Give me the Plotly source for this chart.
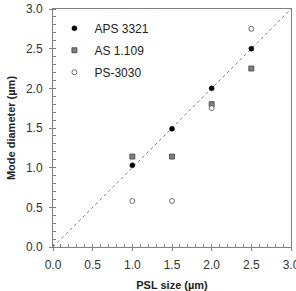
import plotly.graph_objects as go

psl = [1.0, 1.5, 2.0, 2.5]
aps_3321 = [1.03, 1.49, 2.0, 2.5]
as_1109 = [1.14, 1.14, 1.80, 2.25]
ps_3030 = [0.58, 0.58, 1.75, 2.75]
ref_line = [0.0, 3.0]
tick_vals = [0.0, 0.5, 1.0, 1.5, 2.0, 2.5, 3.0]
tick_text = ["0.0", "0.5", "1.0", "1.5", "2.0", "2.5", "3.0"]

fig = go.Figure()
fig.add_trace(go.Scatter(x=ref_line, y=ref_line, mode="lines",
                         line=dict(color="#666666", width=0.8, dash="dot"),
                         showlegend=False, hoverinfo="skip"))
fig.add_trace(go.Scatter(x=psl, y=aps_3321, mode="markers", name="APS 3321",
                         legendgroup="a",
                         marker=dict(symbol="circle", size=5, color="black",
                                     line=dict(color="black", width=0.5))))
fig.add_trace(go.Scatter(x=psl, y=as_1109, mode="markers", name="AS 1.109",
                         legendgroup="b",
                         marker=dict(symbol="square", size=5, color="#808080",
                                     line=dict(color="#404040", width=0.8))))
fig.add_trace(go.Scatter(x=psl, y=ps_3030, mode="markers", name="PS-3030",
                         legendgroup="c",
                         marker=dict(symbol="circle", size=5, color="white",
                                     line=dict(color="#606060", width=0.9))))

axis_common = dict(
    range=[0, 3], tickvals=tick_vals, ticktext=tick_text, automargin=False,
    showgrid=False, zeroline=False, showline=True, linecolor="#808080",
    linewidth=1, mirror=True, ticks="outside", ticklen=3, tickcolor="#808080",
    ticklabelstandoff=4, ticklabeloverflow="allow",
    tickfont=dict(family="Liberation Sans, Arial", size=12, color="#333333"),
    minor=dict(dtick=0.1, ticks="inside", ticklen=3, tickcolor="#808080"),
)

fig.update_layout(
    width=296, height=291,
    margin=dict(l=53, r=5, t=9, b=44),
    plot_bgcolor="white", paper_bgcolor="white",
    font=dict(family="Liberation Sans, Arial", size=11, color="#222222"),
    xaxis=dict(**axis_common,
               title=dict(text="<b>PSL size (µm)</b>", standoff=10,
                          font=dict(size=11, color="#222222"))),
    yaxis=dict(**axis_common,
               title=dict(text="<b>Mode diameter (µm)</b>", standoff=8,
                          font=dict(size=11, color="#222222"))),
    legend=dict(x=0.006, y=0.98, xanchor="left", yanchor="top",
                bgcolor="rgba(0,0,0,0)", font=dict(size=12, color="#222222"),
                itemwidth=30, tracegroupgap=3, traceorder="grouped"),
    showlegend=True,
)

fig.write_html("out.html")
